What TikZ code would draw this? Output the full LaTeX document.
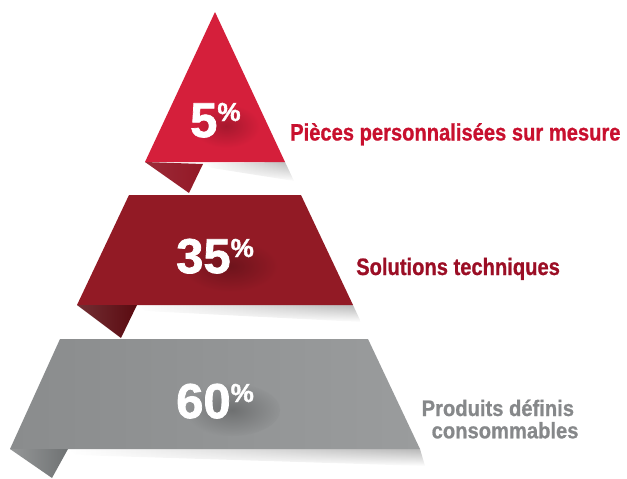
\documentclass[tikz,border=0pt]{standalone}
\usepackage{fontspec}
\setmainfont{Liberation Sans}
\newfontfamily\lblfont[FakeStretch=0.85,FakeBold=0.8]{Liberation Sans}
\newfontfamily\lblfontb[FakeStretch=0.9,FakeBold=0.8]{Liberation Sans}
\newfontfamily\numfont[FakeBold=1.5]{Liberation Sans}
\usetikzlibrary{fadings}
\definecolor{topred}{HTML}{D51F3B}
\definecolor{topfold}{HTML}{931826}
\definecolor{midred}{HTML}{921A25}
\definecolor{midfold}{HTML}{5A0A10}
\definecolor{botgrayL}{HTML}{8A8C8D}
\definecolor{botgrayR}{HTML}{9A9C9D}
\definecolor{botfold}{HTML}{6F7273}
\definecolor{lblred}{HTML}{C8102E}
\definecolor{lbldark}{HTML}{9B0E25}
\definecolor{lblgray}{HTML}{86888A}
\newcommand\pctsign{\raisebox{16pt}{\fontsize{26}{26}\selectfont\%}}
\tikzset{
  pct/.style={inner sep=0pt, anchor=base west, text=white,
    font=\numfont\bfseries\fontsize{49}{49}\selectfont},
  lbl/.style={inner sep=0pt, anchor=base west,
    font=\lblfont\bfseries\fontsize{23.7}{24}\selectfont},
  lblb/.style={inner sep=0pt, anchor=base west,
    font=\lblfontb\bfseries\fontsize{22.4}{23}\selectfont},
  dropshadow/.style={left color=white, right color=black!28, path fading=south}
}
\begin{document}
\begin{tikzpicture}[x=1pt,y=-1pt]
\useasboundingbox (0,0) rectangle (627,479);

% ground shadows
\shade[dropshadow] (203,163) -- (285,162) -- (294,181) -- (212,168) -- cycle;
\shade[dropshadow] (137,305) -- (353,305) -- (361,322) -- (145,311) -- cycle;
\shade[dropshadow] (68,449) -- (420,449) -- (425,466) -- (76,455) -- cycle;

% top triangle
\fill[topred] (215,12) -- (285,162) -- (145,162) -- cycle;
\begin{scope}
  \clip (215,12) -- (285,162) -- (145,162) -- cycle;
  \shade[inner color=topred!78!black, outer color=topred] (226,126) ellipse (34 and 22);
\end{scope}
\shade[left color=topfold!92!white, right color=topfold] (145,162) -- (203,164) -- (189,193) -- cycle;

% middle trapezoid
\fill[midred] (129,195) -- (301,195) -- (353,305) -- (77,305) -- cycle;
\begin{scope}
  \clip (129,195) -- (301,195) -- (353,305) -- (77,305) -- cycle;
  \shade[inner color=midred!75!black, outer color=midred] (230,266) ellipse (48 and 26);
\end{scope}
\shade[left color=midfold!85!white, right color=midfold] (77,305) -- (137,305) -- (121,338) -- cycle;

% bottom trapezoid
\shade[left color=botgrayL, right color=botgrayR] (60,339) -- (368,339) -- (420,449) -- (10,449) -- cycle;
\begin{scope}
  \clip (60,339) -- (368,339) -- (420,449) -- (10,449) -- cycle;
  \shade[inner color=botgrayL!80!black, outer color=botgrayL!55!botgrayR] (232,410) ellipse (48 and 26);
\end{scope}
\shade[left color=botgrayL!90!white, right color=botfold] (10,449) -- (68,449) -- (52,478) -- cycle;

% percentages
\node[pct] (p5) at (190,137) {5\pctsign};
\node[pct] (p35) at (176,273) {35\pctsign};
\node[pct] (p60) at (176,418) {60\pctsign};

% labels
\node[lbl, text=lblred] (l1) at (290,140.5) {Pièces personnalisées sur mesure};
\node[lbl, text=lbldark] (l2) at (356,275) {Solutions techniques};
\node[lblb, text=lblgray] (l3a) at (421.5,416) {Produits définis};
\node[lblb, text=lblgray] (l3b) at (431.5,438.3) {consommables};
\end{tikzpicture}
\end{document}
